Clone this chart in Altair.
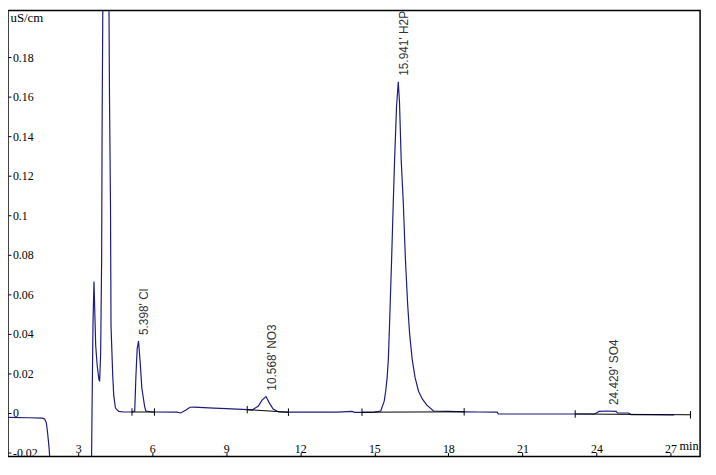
import altair as alt
import pandas as pd

# Chromatogram trace: retention time (min) and conductivity (uS/cm)
TRACE_T = [0.0, 1.0, 1.55, 1.64, 1.71, 1.76, 1.82, 1.86, 2.0, 3.4, 3.52, 3.56, 3.60, 3.64,
           3.71, 3.77, 3.84, 3.87, 3.91, 3.95, 3.97, 4.00, 4.12, 4.24, 4.27, 4.31, 4.33,
           4.40, 4.44, 4.51, 4.64, 4.84, 5.20, 5.29, 5.34, 5.39, 5.445, 5.51, 5.58, 5.69,
           5.74, 6.0, 7.0, 7.15, 7.37, 7.53, 7.7, 8.5, 9.0, 9.85, 10.05, 10.3, 10.45,
           10.61, 10.75, 10.9, 11.12, 11.5, 12.0, 13.5, 14.1, 14.2, 14.8, 15.0, 15.26,
           15.40, 15.46, 15.52, 15.57, 15.63, 15.70, 15.77, 15.82, 15.90, 15.97, 16.02,
           16.09, 16.17, 16.26, 16.35, 16.43, 16.53, 16.65, 16.79, 16.95, 17.13, 17.40,
           18.0, 18.66, 19.2, 19.98, 20.02, 23.9, 24.0, 24.1, 24.4, 24.8, 24.85, 25.3,
           25.4, 27.15]
TRACE_V = [-0.0022, -0.0024, -0.0026, -0.003, -0.005, -0.010, -0.0175, -0.025, -0.05, -0.05,
           -0.05, 0.0, 0.045, 0.0665, 0.034, 0.024, 0.017, 0.016, 0.030, 0.0775, 0.146, 0.21,
           0.35, 0.22, 0.1575, 0.104, 0.044, 0.019, 0.009, 0.0025, 0.0008, 0.0005, 0.0005,
           0.001, 0.019, 0.0325, 0.0364, 0.026, 0.0125, 0.0035, 0.001, 0.0005, 0.0004, 0.0,
           0.0015, 0.0029, 0.003, 0.0025, 0.0022, 0.0017, 0.0015, 0.0035, 0.0065, 0.0083,
           0.005, 0.002, 0.0005, 0.0004, 0.0004, 0.0004, 0.0008, 0.0003, 0.0003, 0.0004,
           0.001, 0.006, 0.011, 0.018, 0.0275, 0.05, 0.0775, 0.1075, 0.1275, 0.155, 0.1675,
           0.157, 0.1275, 0.1075, 0.0775, 0.055, 0.04, 0.0275, 0.018, 0.011, 0.007, 0.004,
           0.001, 0.0008, 0.0006, 0.0005, 0.0004, -0.0005, -0.0005, 0.0, 0.0008, 0.001,
           0.0008, 0.0, 0.0, -0.0008, -0.001]

# Integration markers (start / end of each peak)
TICK_T = [5.18, 6.09, 9.85, 11.52, 14.50, 18.64, 23.14, 27.81]
TICK_V = [0.0005, 0.0005, 0.0017, 0.0004, 0.0004, 0.0006, -0.0005, -0.0009]
TICK_HALF = 0.0019

# Peak annotations
PEAK_RT = [5.398, 10.568, 15.941, 24.429]
PEAK_H = [0.0364, 0.0083, 0.1675, 0.001]
PEAK_TEXT = ["5.398' Cl", "10.568' NO3", "15.941' H2P", "24.429' SO4"]

X_TICKS = [3, 6, 9, 12, 15, 18, 21, 24, 27]
Y_TICKS = [-0.02, 0, 0.02, 0.04, 0.06, 0.08, 0.1, 0.12, 0.14, 0.16, 0.18]
X_DOMAIN = [0.156, 28.2]
Y_DOMAIN = [-0.022, 0.2035]

LINE_COLOR = "#1a1a80"

trace = pd.DataFrame({"t": TRACE_T, "v": TRACE_V})
ticks = pd.DataFrame({"t": TICK_T,
                      "lo": [v - TICK_HALF for v in TICK_V],
                      "hi": [v + TICK_HALF for v in TICK_V]})
bases = pd.DataFrame({"t": TICK_T[0::2], "t2": TICK_T[1::2],
                      "v": TICK_V[0::2], "v2": TICK_V[1::2]})
peaks = pd.DataFrame({"t": PEAK_RT, "v": PEAK_H, "label": PEAK_TEXT})

xs = alt.Scale(domain=X_DOMAIN, nice=False, zero=False)
ys = alt.Scale(domain=Y_DOMAIN, nice=False, zero=False)

x_axis = alt.Axis(values=X_TICKS, orient="bottom", offset=-4, tickSize=4, tickColor="black",
                  tickWidth=1, domain=False, grid=False, labelPadding=-4,
                  labelBaseline="alphabetic", labelFont="Liberation Serif", labelFontSize=12,
                  labelColor="black", labelFlush=False, labelOverlap=False,
                  title="min", titleFont="Liberation Serif", titleFontSize=12.5,
                  titleFontWeight="normal", titleColor="black", titleAlign="right",
                  titleBaseline="alphabetic", titleAngle=0, titleX=698, titleY=-3)
y_axis = alt.Axis(values=Y_TICKS, orient="left", offset=-3, tickSize=3, tickColor="black",
                  tickWidth=1, domain=False, grid=False, labelPadding=-4.5, labelAlign="left",
                  labelBaseline="middle", labelFont="Liberation Serif", labelFontSize=12,
                  labelColor="black", labelFlush=False, labelOverlap=False,
                  labelExpr="datum.value < 0 ? '-' + format(-datum.value, '~r') : format(datum.value, '~r')",
                  title="uS/cm", titleFont="Liberation Serif", titleFontSize=13,
                  titleFontWeight="normal", titleColor="black", titleAlign="left",
                  titleBaseline="alphabetic", titleAngle=0, titleX=-1, titleY=11)

X = alt.X("t:Q", scale=xs, axis=x_axis, title="min")
Y = alt.Y("v:Q", scale=ys, axis=y_axis, title="uS/cm")

line = alt.Chart(trace).mark_line(color=LINE_COLOR, strokeWidth=1.2, clip=True).encode(
    x=X, y=Y,
)

baseline = alt.Chart(bases).mark_rule(color="black", strokeWidth=1, clip=True).encode(
    x=X, x2="t2:Q", y=Y, y2="v2:Q",
)

tick_marks = alt.Chart(ticks).mark_rule(color="black", strokeWidth=1, clip=True).encode(
    x=X, y=alt.Y("lo:Q", scale=ys, axis=y_axis, title="uS/cm"), y2="hi:Q",
)

labels = alt.Chart(peaks).mark_text(angle=270, align="left", baseline="middle", dx=6, dy=7,
                                    font="Liberation Sans", fontSize=12, color="#333333").encode(
    x=X, y=Y, text="label:N",
)

chart = alt.layer(line, baseline, tick_marks, labels).properties(
    width=700, height=451,
    autosize=alt.AutoSizeParams(type="none"),
    padding={"left": 0, "top": 0, "right": 8, "bottom": 8},
    background="white",
).configure_view(stroke="black", strokeWidth=1.5)

chart.save("out.html", embed_options={"renderer": "svg", "actions": False})
